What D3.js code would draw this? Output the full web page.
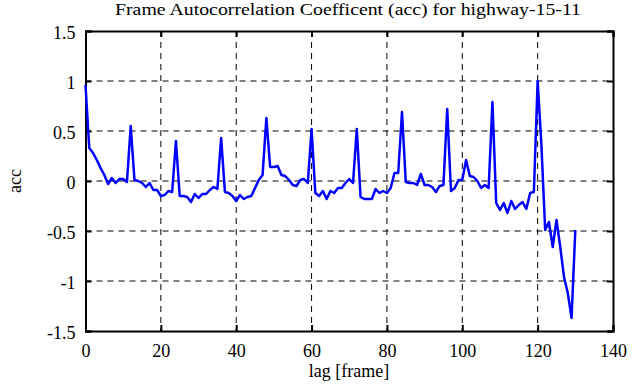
<!DOCTYPE html>
<html>
<head>
<meta charset="utf-8">
<script src="https://cdn.jsdelivr.net/npm/d3@7"></script>
<style>
  body { margin: 0; background: #fff; }
</style>
</head>
<body>
<svg id="chart" width="641" height="387"></svg>
<script>
// acc values for lag 0..130
const accValues = [
  0.96, 0.33, 0.28, 0.21, 0.13, 0.06, -0.03, 0.03, -0.02, 0.02,
  0.02, -0.01, 0.55, 0.01, 0.0, -0.02, -0.06, -0.02, -0.09, -0.09,
  -0.15, -0.14, -0.1, -0.11, 0.40, -0.15, -0.15, -0.16, -0.21, -0.13,
  -0.17, -0.13, -0.13, -0.09, -0.06, -0.08, 0.43, -0.11, -0.12, -0.15,
  -0.2, -0.14, -0.18, -0.16, -0.15, -0.07, 0.01, 0.06, 0.63, 0.14,
  0.14, 0.15, 0.06, 0.05, 0.01, -0.04, -0.05, 0.01, 0.02, -0.02,
  0.52, -0.12, -0.15, -0.1, -0.18, -0.1, -0.12, -0.07, -0.07, -0.02,
  0.02, -0.02, 0.52, -0.16, -0.18, -0.18, -0.18, -0.08, -0.12, -0.1,
  -0.12, -0.07, 0.08, 0.08, 0.69, -0.01, -0.02, -0.02, -0.04, 0.07,
  -0.04, -0.04, -0.06, -0.11, -0.05, -0.04, 0.72, -0.1, -0.07, 0.01,
  0.01, 0.21, 0.05, 0.04, 0.0, -0.07, -0.04, -0.07, 0.79, -0.22,
  -0.29, -0.22, -0.32, -0.2, -0.28, -0.24, -0.21, -0.28, -0.12, -0.11,
  1.0, 0.36, -0.49, -0.41, -0.66, -0.39, -0.66, -0.96, -1.12, -1.37,
  -0.49
];
const lags = accValues.map((_, i) => i);
const xTicks = [0, 20, 40, 60, 80, 100, 120, 140];
const yTicks = [-1.5, -1, -0.5, 0, 0.5, 1, 1.5];

const serif = '"Liberation Serif", "Times New Roman", "DejaVu Serif", serif';

const margin = { top: 31, right: 28, bottom: 56, left: 85.5 };
const width = 641 - margin.left - margin.right;
const height = 387 - margin.top - margin.bottom;

const svg = d3.select('#chart');
const g = svg.append('g')
  .attr('transform', `translate(${margin.left},${margin.top})`);

const x = d3.scaleLinear().domain([0, 140]).range([0, width]);
const y = d3.scaleLinear().domain([-1.5, 1.5]).range([height, 0]);

// grid
g.append('g').selectAll('line')
  .data(xTicks.slice(1, -1))
  .join('line')
  .attr('x1', d => x(d)).attr('x2', d => x(d))
  .attr('y1', 0).attr('y2', height)
  .attr('stroke', '#000').attr('stroke-width', 1)
  .attr('stroke-dasharray', '6,5');
g.append('g').selectAll('line')
  .data(yTicks.slice(1, -1))
  .join('line')
  .attr('y1', d => y(d)).attr('y2', d => y(d))
  .attr('x1', 0).attr('x2', width)
  .attr('stroke', '#000').attr('stroke-width', 1)
  .attr('stroke-dasharray', '6,5');

// axes with inward ticks
const fmt = d => String(d);
const xAxis = g.append('g')
  .attr('transform', `translate(0,${height})`)
  .call(d3.axisBottom(x).tickValues(xTicks).tickSize(-6).tickPadding(13).tickFormat(fmt));
const xTop = g.append('g')
  .call(d3.axisTop(x).tickValues(xTicks).tickSize(-6).tickFormat(''));
const yAxis = g.append('g')
  .call(d3.axisLeft(y).tickValues(yTicks).tickSize(-6).tickPadding(10).tickFormat(fmt));
const yRight = g.append('g')
  .attr('transform', `translate(${width},0)`)
  .call(d3.axisRight(y).tickValues(yTicks).tickSize(-6).tickFormat(''));

[xAxis, xTop, yAxis, yRight].forEach(a => {
  a.attr('font-family', serif).attr('font-size', 18);
  a.select('.domain').attr('stroke', '#000').attr('stroke-width', 2);
  a.selectAll('.tick line').attr('stroke', '#000').attr('stroke-width', 2);
  a.selectAll('text')
    .attr('font-family', serif)
    .attr('font-size', 18)
    .attr('fill', '#000');
});
yAxis.selectAll('text').attr('dy', '0.42em');

// data line
const line = d3.line()
  .x((d, i) => x(lags[i]))
  .y(d => y(d));
g.append('path')
  .datum(accValues)
  .attr('d', line)
  .attr('fill', 'none')
  .attr('stroke', '#0000ff')
  .attr('stroke-width', 2.5)
  .attr('stroke-linejoin', 'round');

// title and labels
svg.append('text')
  .attr('x', 348).attr('y', 15)
  .attr('text-anchor', 'middle')
  .attr('font-family', serif)
  .attr('font-size', 16)
  .attr('textLength', 466)
  .attr('lengthAdjust', 'spacingAndGlyphs')
  .text('Frame Autocorrelation Coefficent (acc) for highway-15-11');
svg.append('text')
  .attr('x', 349).attr('y', 377)
  .attr('text-anchor', 'middle')
  .attr('font-family', serif)
  .attr('font-size', 18)
  .text('lag [frame]');
svg.append('text')
  .attr('transform', 'translate(21,181) rotate(-90)')
  .attr('text-anchor', 'middle')
  .attr('font-family', serif)
  .attr('font-size', 18)
  .text('acc');
</script>
</body>
</html>
